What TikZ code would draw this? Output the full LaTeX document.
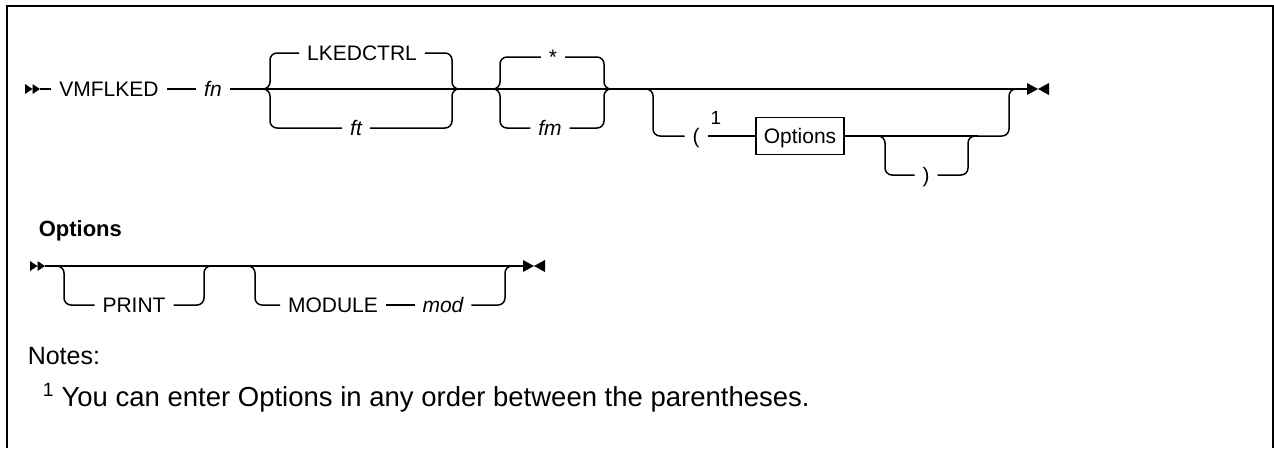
\documentclass[tikz,border=0pt]{standalone}
\usepackage{fontspec}
\setmainfont{Liberation Sans}
\usetikzlibrary{calc}

\begin{document}
\begin{tikzpicture}[x=1pt,y=-1pt,line width=1.5pt,
  txt/.style={inner xsep=8pt,inner ysep=0pt,outer sep=0pt,text height=15pt,text depth=0pt,font=\fontsize{21}{25}\selectfont},
  var/.style={txt,font=\fontsize{21}{25}\selectfont\itshape},
  plain/.style={inner sep=0pt,anchor=base west,font=\fontsize{25}{30}\selectfont},
  branch/.style={rounded corners=7pt},
  optbox/.style={txt,draw,line width=1.5pt,minimum height=37pt},
  pics/startmark/.style={code={\fill (-15,-5)--(-7.5,0)--(-15,5)--cycle (-7.5,-5)--(0,0)--(-7.5,5)--cycle;}},
  pics/endmark/.style={code={\fill (0,-6)--(11,0)--(0,6)--cycle (22,-6)--(11,0)--(22,6)--cycle;}}]
  \useasboundingbox (0,0) rectangle (1274,448);
  \draw[line width=2.5pt] (7,448) -- (7,6) -- (1273,6) -- (1273,448);

  % command line
  \coordinate (s1) at (40,89);
  \pic at (s1) {startmark};
  \node[txt] (vm) at (109,89) {VMFLKED};
  \node[var] (fn) at (213,89) {fn};
  \coordinate (j1) at (263,89);
  \coordinate (j2) at (460,89);
  \coordinate (j3) at (493,89);
  \coordinate (j4) at (613,89);
  \coordinate (j5) at (645,89);
  \coordinate (j6) at (1017,89);
  \coordinate (e1) at (1027,89);
  \pic at (e1) {endmark};
  \draw (s1) -- (vm) (vm) -- (fn) (fn) -- (j1) -- (e1);

  \node[txt] (lk) at (362,53) {LKEDCTRL};
  \node[var] (ft) at (356,128) {ft};
  \draw[branch] (j1) -- ++(7,0) |- (lk.west);
  \draw[branch] (lk.east) -| ($(j2)+(-8,0)$) -- (j2);
  \draw[branch] (j1) -- ++(7,0) |- (ft.west);
  \draw[branch] (ft.east) -| ($(j2)+(-8,0)$) -- (j2);

  \node[txt] (st) at (553,57) {*};
  \node[var] (fm) at (550,128) {fm};
  \draw[branch] (j3) -- ++(7,0) |- (st.west);
  \draw[branch] (st.east) -| ($(j4)+(-9,0)$) -- (j4);
  \draw[branch] (j3) -- ++(7,0) |- (fm.west);
  \draw[branch] (fm.east) -| ($(j4)+(-9,0)$) -- (j4);

  % optional parameter list
  \node[txt] (lp) at (696,136) {(};
  \node[font=\fontsize{19}{21}\selectfont] (n1) at (716,118) {1};
  \node[optbox] (opt) at (800,136) {Options};
  \coordinate (j7) at (877,136);
  \coordinate (j8) at (978,136);
  \node[txt] (rp) at (926,175) {)};
  \draw[branch] (j5) -- ++(8,0) |- (lp.west);
  \draw (lp) -- (opt) (opt) -- (j7) -- (j8);
  \draw[branch] (j7) -- ++(8,0) |- (rp.west);
  \draw[branch] (rp.east) -| ($(j8)+(-10,0)$) -- (j8);
  \draw[branch] (j8) -| ($(j6)+(-8,0)$) -- (j6);

  % Options fragment
  \node[plain,font=\fontsize{22}{26}\selectfont\bfseries] (hd) at (38,236) {Options};
  \coordinate (s2) at (45,266);
  \pic at (s2) {startmark};
  \coordinate (j9) at (56,266);
  \coordinate (j10) at (212,266);
  \coordinate (j11) at (247,266);
  \coordinate (j12) at (514,266);
  \coordinate (e2) at (523,266);
  \pic at (e2) {endmark};
  \node[txt] (pr) at (134,305) {PRINT};
  \node[txt] (mo) at (333,305) {MODULE};
  \node[var] (md) at (443,305) {mod};
  \draw (s2) -- (e2);
  \draw[branch] (j9) -- ++(8,0) |- (pr.west);
  \draw[branch] (pr.east) -| ($(j10)+(-8,0)$) -- (j10);
  \draw[branch] (j11) -- ++(8,0) |- (mo.west);
  \draw (mo) -- (md);
  \draw[branch] (md.east) -| ($(j12)+(-9,0)$) -- (j12);

  % notes
  \node[plain] (nt) at (27,364) {Notes:};
  \node[plain,font=\fontsize{27.5}{32}\selectfont] (fnote) at (42,406) {\textsuperscript{1} You can enter Options in any order between the parentheses.};
\end{tikzpicture}
\end{document}
